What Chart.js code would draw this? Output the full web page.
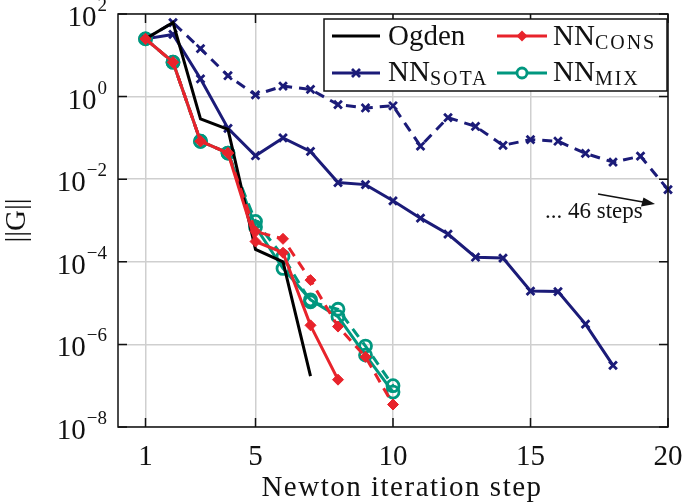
<!DOCTYPE html>
<html>
<head>
<meta charset="utf-8">
<script src="https://cdn.jsdelivr.net/npm/chart.js@4/dist/chart.umd.min.js"></script>
<style>
  body { margin: 0; background: #fff; }
  canvas { display: block; }
</style>
</head>
<body>
<canvas id="myChart" width="685" height="503"></canvas>
<script>
// values, one per Newton step starting at 1
var ogden      = [25, 62, 0.29, 0.16, 2.0e-4, 1.0e-4, 1.7e-7];
var sotaSolid  = [25, 32, 2.7, 0.17, 0.037, 0.1, 0.047, 0.0083, 0.0074, 0.003, 0.00114, 4.7e-4, 1.29e-4, 1.23e-4, 1.96e-5, 1.9e-5, 3.1e-6, 3.1e-7];
var sotaDashed = [25, 62, 14.5, 3.2, 1.1, 1.8, 1.5, 0.64, 0.53, 0.6, 0.063, 0.31, 0.19, 0.066, 0.091, 0.083, 0.042, 0.026, 0.036, 0.0056];
var consSolid  = [25, 6.8, 0.083, 0.043, 3.1e-4, 1.66e-4, 2.9e-6, 1.4e-7];
var consDashed = [25, 6.8, 0.083, 0.043, 5.4e-4, 3.6e-4, 3.6e-5, 2.7e-6, 5.0e-7, 3.5e-8];
var mixSolid   = [25, 6.8, 0.083, 0.043, 7.0e-4, 6.9e-5, 1.2e-5, 4.7e-6, 5.5e-7, 7.0e-8];
var mixDashed  = [25, 6.8, 0.083, 0.043, 9.5e-4, 1.35e-4, 1.07e-5, 7.1e-6, 9.1e-7, 1.0e-7];

var xTicks = [1, 5, 10, 15, 20];
var yTicks = [1e-8, 1e-6, 1e-4, 1e-2, 1e0, 1e2];
var yTickExp = ['\u22128', '\u22126', '\u22124', '\u22122', '0', '2'];

var xTitle = 'Newton iteration step';
var yTitle = '||G||';
var note = '... 46 steps';

var navy = '#1b1b78';
var red = '#e8232b';
var teal = '#00977f';
var serif = '"Liberation Serif", "DejaVu Serif", serif';

function pts(vals) {
    return vals.map(function(v, i){ return {x: i + 1, y: v}; });
}

function series(label, vals, color, style, dashed) {
    return {
        label: label,
        data: pts(vals),
        borderColor: color,
        backgroundColor: style == 'circle' ? 'rgba(0,0,0,0)' : color,
        borderWidth: 3,
        borderDash: dashed ? [10, 7] : [],
        pointStyle: style || false,
        pointRadius: style == 'circle' ? 6 : (style ? 5.5 : 0),
        pointBorderWidth: style == 'rectRot' ? 1 : 2.8,
        pointBorderColor: color,
        pointBackgroundColor: style == 'circle' ? 'rgba(0,0,0,0)' : color,
        tension: 0,
        clip: false
    };
}

function drawMarker(ctx, style, color, x, y) {
    ctx.save();
    ctx.strokeStyle = color;
    ctx.fillStyle = color;
    ctx.lineWidth = 2.8;
    ctx.setLineDash([]);
    if (style == 'crossRot') {
        ctx.beginPath();
        ctx.moveTo(x - 4, y - 4); ctx.lineTo(x + 4, y + 4);
        ctx.moveTo(x + 4, y - 4); ctx.lineTo(x - 4, y + 4);
        ctx.stroke();
    } else if (style == 'rectRot') {
        ctx.beginPath();
        ctx.moveTo(x, y - 5.5); ctx.lineTo(x + 5.5, y); ctx.lineTo(x, y + 5.5); ctx.lineTo(x - 5.5, y);
        ctx.closePath();
        ctx.fill();
    } else if (style == 'circle') {
        ctx.fillStyle = '#fff';
        ctx.beginPath();
        ctx.arc(x, y, 5, 0, Math.PI * 2);
        ctx.fill();
        ctx.stroke();
    }
    ctx.restore();
}

var textPlugin = {
    id: 'textPlugin',
    afterDraw: function(chart) {
        var ctx = chart.ctx;
        var a = chart.chartArea;
        var xs = chart.scales.x, ys = chart.scales.y;
        ctx.save();

        // frame
        ctx.strokeStyle = '#111';
        ctx.lineWidth = 1.5;
        ctx.strokeRect(a.left, a.top, a.right - a.left, a.bottom - a.top);

        // inner tick marks
        ctx.beginPath();
        yTicks.forEach(function(v){
            var y = ys.getPixelForValue(v);
            ctx.moveTo(a.left, y); ctx.lineTo(a.left + 9, y);
            ctx.moveTo(a.right, y); ctx.lineTo(a.right - 9, y);
        });
        xTicks.forEach(function(v){
            var x = xs.getPixelForValue(v);
            ctx.moveTo(x, a.bottom); ctx.lineTo(x, a.bottom - 9);
            ctx.moveTo(x, a.top); ctx.lineTo(x, a.top + 9);
        });
        ctx.stroke();

        ctx.fillStyle = '#111';
        // y tick labels 10^n
        yTicks.forEach(function(v, i){
            var y = ys.getPixelForValue(v);
            ctx.font = '19px ' + serif;
            ctx.textAlign = 'right';
            ctx.textBaseline = 'alphabetic';
            var ew = ctx.measureText(yTickExp[i]).width;
            ctx.fillText(yTickExp[i], a.left - 11, y - 3);
            ctx.font = '29px ' + serif;
            ctx.fillText('10', a.left - 12 - ew, y + 12);
        });

        // x tick labels
        ctx.font = '29px ' + serif;
        ctx.textAlign = 'center';
        xTicks.forEach(function(v){
            ctx.fillText(String(v), xs.getPixelForValue(v), 465);
        });

        // axis titles
        ctx.save();
        ctx.letterSpacing = '1.5px';
        ctx.fillText(xTitle, 402, 496);
        ctx.restore();
        ctx.save();
        ctx.translate(25, (a.top + a.bottom) / 2);
        ctx.rotate(-Math.PI / 2);
        ctx.fillText(yTitle, 0, 0);
        ctx.restore();

        // annotation with arrow
        ctx.font = '23px ' + serif;
        ctx.textAlign = 'left';
        ctx.fillText(note, 545, 218);
        ctx.beginPath();
        ctx.moveTo(598, 194);
        ctx.lineTo(643, 202);
        ctx.lineWidth = 1.5;
        ctx.stroke();
        ctx.beginPath();
        ctx.moveTo(655, 204);
        ctx.lineTo(641, 206.5);
        ctx.lineTo(643.5, 197.5);
        ctx.closePath();
        ctx.fill();

        // legend
        ctx.fillStyle = '#fff';
        ctx.fillRect(324, 19, 343, 72);
        ctx.strokeStyle = '#111';
        ctx.lineWidth = 1.5;
        ctx.strokeRect(324, 19, 343, 72);

        var items = [
            {main: 'Ogden', sub: '', color: '#000', style: null, x0: 332, x1: 380, tx: 388, ly: 36, by: 45},
            {main: 'NN', sub: 'CONS', color: red, style: 'rectRot', x0: 497, x1: 547, tx: 553, ly: 36, by: 45},
            {main: 'NN', sub: 'SOTA', color: navy, style: 'crossRot', x0: 332, x1: 380, tx: 388, ly: 73, by: 81},
            {main: 'NN', sub: 'MIX', color: teal, style: 'circle', x0: 497, x1: 547, tx: 553, ly: 73, by: 81}
        ];
        items.forEach(function(it){
            ctx.strokeStyle = it.color;
            ctx.lineWidth = 3;
            ctx.beginPath();
            ctx.moveTo(it.x0, it.ly); ctx.lineTo(it.x1, it.ly);
            ctx.stroke();
            if (it.style) drawMarker(ctx, it.style, it.color, (it.x0 + it.x1) / 2, it.ly);
            ctx.fillStyle = '#111';
            ctx.font = '29px ' + serif;
            ctx.textAlign = 'left';
            ctx.fillText(it.main, it.tx, it.by);
            if (it.sub) {
                var w = ctx.measureText(it.main).width;
                ctx.save();
                ctx.letterSpacing = '2px';
                ctx.font = '20px ' + serif;
                ctx.fillText(it.sub, it.tx + w, it.by + 4);
                ctx.restore();
            }
        });

        ctx.restore();
    }
};

var myChart = document.getElementById('myChart').getContext('2d');

var chart = new Chart(myChart, {
    type: 'line',
    data: {
        datasets: [
            series('NN_CONS', consSolid, red, 'rectRot', false),
            series('NN_CONS dashed', consDashed, red, 'rectRot', true),
            series('Ogden', ogden, '#000', null, false),
            series('NN_MIX', mixSolid, teal, 'circle', false),
            series('NN_MIX dashed', mixDashed, teal, 'circle', true),
            series('NN_SOTA', sotaSolid, navy, 'crossRot', false),
            series('NN_SOTA dashed', sotaDashed, navy, 'crossRot', true)
        ]
    },
    options: {
        responsive: false,
        animation: false,
        layout: {padding: {left: 118, top: 14, right: 17, bottom: 76}},
        plugins: {legend: {display: false}, tooltip: {enabled: false}},
        scales: {
            x: {
                type: 'linear',
                min: 0,
                max: 20,
                afterBuildTicks: function(axis){ axis.ticks = xTicks.map(function(v){ return {value: v}; }); },
                ticks: {display: false},
                grid: {color: '#cfcfcf', lineWidth: 1.5, drawTicks: false},
                border: {display: false}
            },
            y: {
                type: 'logarithmic',
                min: 1e-8,
                max: 1e2,
                afterBuildTicks: function(axis){ axis.ticks = yTicks.map(function(v){ return {value: v}; }); },
                ticks: {display: false},
                grid: {color: '#cfcfcf', lineWidth: 1.5, drawTicks: false},
                border: {display: false}
            }
        }
    },
    plugins: [textPlugin]
});
</script>
</body>
</html>
